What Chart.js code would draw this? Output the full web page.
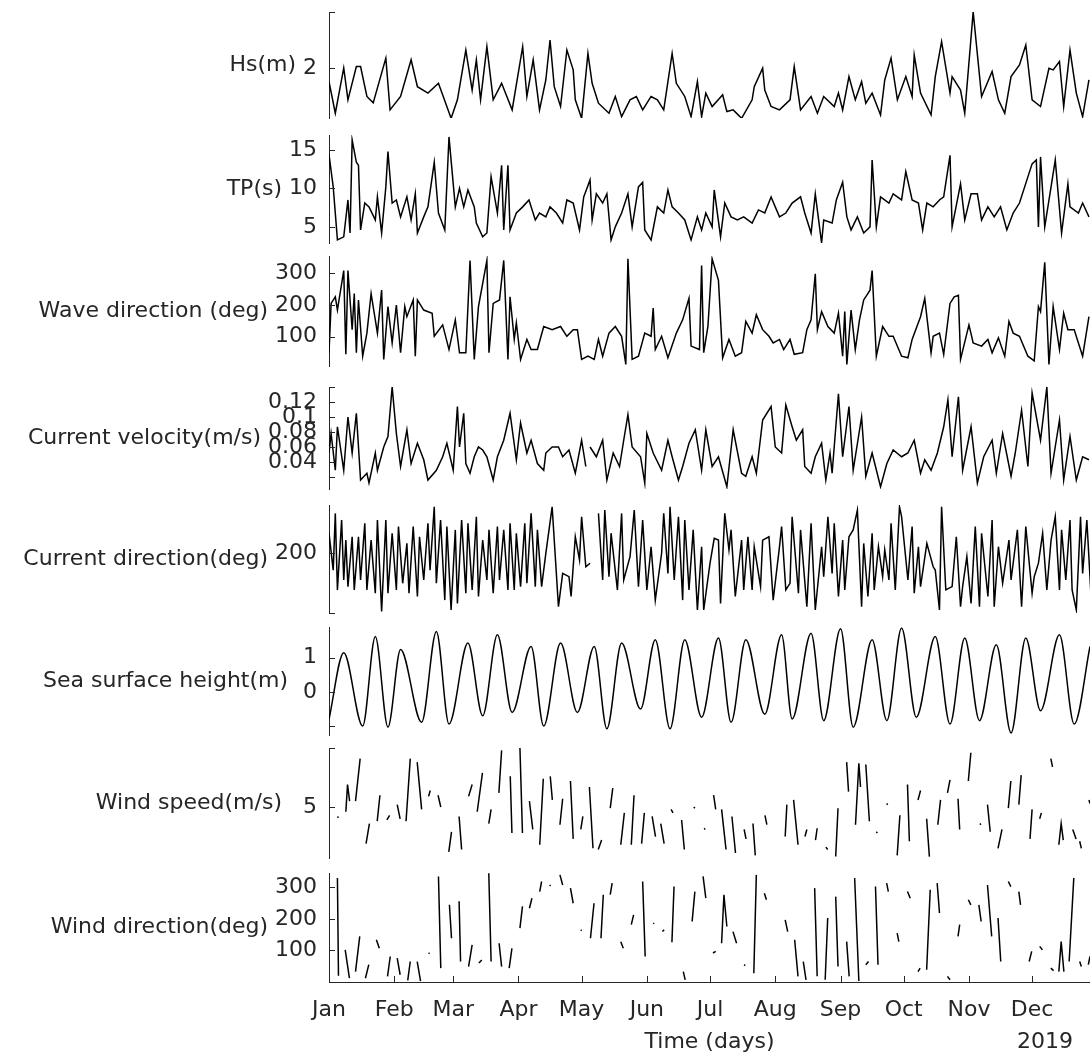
<!DOCTYPE html>
<html>
<head>
<meta charset="utf-8">
<script src="https://cdn.jsdelivr.net/npm/chart.js@4.4.0/dist/chart.umd.min.js"></script>
<style>
  body { margin: 0; background: #fff; width: 1090px; height: 1059px; overflow: hidden; position: relative; }
  canvas { position: absolute; left: 0; }
</style>
</head>
<body>
<script>
// x axis = day of 2019 (0 = 1 Jan)
var monthStarts = [0, 31, 59, 90, 120, 151, 181, 212, 243, 273, 304, 334];
var monthLabels = ['Jan', 'Feb', 'Mar', 'Apr', 'May', 'Jun', 'Jul', 'Aug', 'Sep', 'Oct', 'Nov', 'Dec'];

// [day, value], null = gap
var hs = [[0,1.51],[3,0.38],[7,2.0],[9,0.86],[13,2.05],[15,2.05],[18,0.98],[21,0.75],[27,2.35],[29,0.5],[34,0.98],[39,2.29],[42,1.33],[47,1.1],[52,1.45],[58,0.2],[61,0.86],[65,2.64],[68,1.21],[70,2.29],[72,0.86],[75,2.76],[78,0.86],[82,1.45],[87,0.5],[92,2.76],[94,0.98],[97,2.29],[100,0.5],[103,1.57],[105,3.0],[107,1.33],[110,0.62],[113,2.64],[116,1.93],[117,0.86],[120,0.2],[123,2.52],[125,1.45],[128,0.74],[133,0.38],[136,0.98],[139,0.26],[143,0.86],[146,0.98],[149,0.5],[153,0.98],[156,0.86],[159,0.5],[163,2.52],[165,1.45],[169,0.98],[172,0.26],[175,1.51],[177,0.26],[179,1.1],[182,0.62],[187,1.04],[189,0.44],[192,0.5],[196,0.2],[201,0.86],[202,1.33],[206,1.99],[207,1.21],[210,0.62],[214,0.5],[219,0.86],[221,2.05],[224,0.5],[229,0.98],[232,0.38],[235,0.98],[240,0.62],[242,1.1],[244,0.5],[247,1.69],[250,0.86],[253,1.51],[255,0.74],[258,1.1],[262,0.32],[264,1.57],[267,2.35],[270,0.86],[274,1.69],[277,0.98],[278,2.46],[281,1.1],[286,0.32],[288,1.69],[291,2.94],[295,1.1],[296,1.69],[300,1.21],[302,0.38],[306,4.0],[310,0.98],[315,1.87],[318,0.86],[321,0.38],[324,1.69],[328,2.11],[331,2.82],[334,0.86],[338,0.62],[342,1.99],[344,1.93],[347,2.23],[349,0.62],[352,2.64],[355,1.1],[358,0.26],[361,1.57]];

var tp = [[0,14.4],[2,10.2],[4,3.3],[7,3.7],[9,8.5],[10,4.2],[11,16.3],[13,13.4],[14,13.0],[15,4.6],[17,8.1],[19,7.6],[22,5.9],[23,8.9],[25,4.2],[27,10.2],[28,14.8],[30,8.1],[32,8.5],[34,6.3],[37,8.9],[39,5.9],[41,9.3],[42,4.2],[45,6.3],[47,7.6],[50,13.4],[52,6.8],[55,4.6],[57,16.7],[60,7.6],[62,10.0],[64,7.6],[66,9.8],[69,7.6],[70,5.5],[73,3.7],[75,4.2],[77,11.5],[80,6.8],[82,13.0],[83,4.6],[85,13.0],[86,4.6],[89,6.8],[92,7.6],[95,8.5],[98,5.9],[100,6.8],[103,6.3],[105,7.6],[108,6.8],[111,5.5],[113,8.5],[116,8.1],[119,4.6],[121,8.9],[124,11.1],[125,5.9],[127,9.3],[130,8.1],[132,9.3],[134,3.3],[136,5.0],[139,6.8],[142,9.3],[144,5.0],[147,10.2],[149,10.8],[150,4.6],[153,3.3],[156,7.6],[159,6.8],[161,9.8],[163,7.6],[166,6.8],[169,5.9],[172,3.3],[175,6.3],[177,4.6],[179,6.8],[182,5.0],[183,9.8],[186,3.7],[188,8.1],[191,6.3],[194,5.9],[197,6.3],[201,5.5],[204,7.2],[207,6.8],[210,8.9],[214,6.3],[217,6.8],[220,8.1],[224,8.9],[226,6.8],[229,4.2],[231,9.3],[234,2.9],[235,5.9],[239,5.5],[241,8.5],[244,10.8],[246,6.3],[248,4.6],[251,6.3],[254,4.2],[257,5.0],[258,13.7],[260,5.0],[262,8.9],[266,8.1],[268,9.3],[272,8.5],[274,12.2],[277,8.5],[280,8.1],[282,4.6],[284,8.1],[287,7.6],[290,8.5],[292,8.9],[295,14.3],[296,5.0],[300,10.6],[302,5.9],[305,9.3],[308,9.3],[310,5.9],[313,7.6],[316,6.3],[319,7.6],[322,4.6],[325,6.8],[328,8.1],[332,11.5],[334,13.2],[336,13.7],[337,5.0],[338,14.1],[340,5.0],[343,10.2],[345,13.7],[348,4.2],[351,10.6],[352,7.6],[356,6.8],[358,8.1],[361,6.3]];

var waveDir = [[0,49],[1,205],[3,226],[4,184],[7,309],[8,44],[9,309],[11,122],[12,236],[13,49],[14,216],[16,38],[18,111],[20,236],[23,111],[25,247],[26,28],[28,195],[30,80],[32,200],[34,49],[36,195],[37,163],[40,216],[41,38],[42,216],[45,184],[49,174],[50,101],[54,137],[57,59],[60,153],[62,49],[65,49],[67,341],[69,28],[71,195],[75,341],[76,49],[78,205],[81,216],[83,341],[85,28],[86,226],[88,91],[89,143],[91,28],[94,91],[96,59],[99,59],[102,132],[106,122],[110,132],[113,101],[116,122],[118,122],[120,28],[123,38],[126,28],[128,91],[130,38],[133,111],[136,132],[139,101],[141,12],[142,346],[144,28],[147,38],[150,111],[153,101],[154,190],[155,59],[158,101],[161,33],[165,111],[168,153],[171,221],[172,70],[176,59],[177,325],[178,49],[180,132],[182,346],[185,278],[187,33],[190,91],[193,38],[196,49],[198,148],[201,111],[203,169],[206,122],[209,101],[211,80],[214,91],[216,59],[219,91],[221,44],[225,49],[227,122],[229,153],[231,299],[232,122],[234,179],[237,132],[240,111],[242,174],[244,38],[245,179],[246,12],[248,184],[250,59],[252,153],[254,216],[257,247],[258,309],[260,38],[263,132],[266,101],[268,101],[272,38],[275,33],[277,91],[281,163],[283,221],[286,49],[287,101],[290,111],[292,44],[295,205],[297,226],[299,231],[300,28],[304,137],[306,80],[310,70],[313,91],[315,49],[318,96],[321,38],[323,148],[325,111],[328,101],[332,38],[335,23],[337,195],[338,179],[340,335],[342,12],[344,195],[347,59],[349,174],[351,122],[354,122],[358,38],[361,163]];

var curVel = [[0,0.052],[1,0.078],[3,0.029],[4,0.087],[7,0.029],[9,0.100],[11,0.052],[13,0.105],[15,0.016],[18,0.025],[19,0.012],[22,0.052],[23,0.029],[26,0.060],[28,0.074],[30,0.140],[32,0.078],[34,0.034],[37,0.083],[39,0.038],[42,0.065],[45,0.043],[47,0.016],[51,0.029],[54,0.047],[56,0.065],[59,0.029],[61,0.114],[62,0.060],[64,0.105],[65,0.038],[67,0.025],[69,0.047],[71,0.060],[73,0.056],[75,0.047],[78,0.016],[80,0.047],[83,0.069],[86,0.105],[89,0.043],[91,0.092],[94,0.052],[96,0.069],[99,0.038],[102,0.029],[103,0.052],[106,0.060],[109,0.060],[111,0.047],[114,0.056],[117,0.025],[120,0.069],[122,0.034],null,[124,0.060],[127,0.047],[130,0.069],[132,0.016],[135,0.052],[138,0.034],[140,0.069],[142,0.103],[144,0.060],[148,0.047],[150,0.012],[151,0.078],[154,0.052],[158,0.029],[161,0.069],[163,0.047],[166,0.016],[168,0.034],[171,0.065],[174,0.083],[177,0.029],[179,0.083],[182,0.034],[185,0.047],[189,0.007],[192,0.083],[196,0.025],[198,0.021],[201,0.047],[203,0.025],[206,0.096],[210,0.114],[212,0.060],[215,0.052],[217,0.116],[220,0.087],[222,0.069],[225,0.083],[226,0.034],[229,0.025],[231,0.047],[234,0.065],[236,0.016],[238,0.052],[239,0.025],[242,0.131],[244,0.047],[247,0.114],[249,0.029],[253,0.100],[255,0.021],[258,0.052],[262,0.007],[265,0.038],[268,0.056],[272,0.047],[275,0.052],[278,0.069],[281,0.025],[283,0.043],[286,0.029],[289,0.052],[292,0.087],[294,0.123],[296,0.047],[299,0.127],[301,0.029],[305,0.087],[308,0.012],[311,0.047],[315,0.069],[317,0.025],[320,0.078],[324,0.021],[326,0.052],[329,0.109],[332,0.034],[334,0.132],[338,0.069],[341,0.140],[343,0.025],[347,0.096],[349,0.016],[352,0.074],[355,0.016],[358,0.047],[361,0.043]];

var curDir = [[0,266],[2,143],[3,332],[4,77],[6,310],[7,110],[8,243],[9,88],[11,254],[12,77],[14,254],[15,110],[17,299],[18,77],[20,243],[22,66],[23,310],[25,5],[27,310],[28,66],[30,266],[32,77],[33,288],[35,99],[37,232],[38,66],[40,288],[42,55],[43,254],[45,110],[47,299],[48,143],[50,354],[51,99],[53,310],[55,43],[56,288],[58,10],[60,277],[61,32],[63,310],[65,66],[66,299],[68,77],[70,321],[71,55],[73,243],[75,110],[76,277],[78,66],[80,288],[81,110],[83,277],[85,77],[86,299],[88,77],[89,266],[91,88],[93,299],[94,99],[96,332],[98,88],[99,277],[101,88],[103,199],[106,354],[109,21],[111,132],[114,121],[115,55],[117,254],[119,177],[120,321],[122,154],[124,166],null,[128,332],[130,110],[131,343],[133,121],[134,266],[137,77],[139,332],[140,110],[143,188],[145,343],[147,88],[149,310],[151,77],[153,221],[155,43],[158,199],[159,332],[161,132],[162,354],[164,110],[166,321],[168,43],[169,310],[171,77],[173,277],[175,10],[177,221],[178,10],[181,166],[183,249],[185,243],[186,32],[188,332],[190,210],[191,277],[193,55],[196,243],[197,77],[199,254],[201,77],[202,221],[205,88],[206,243],[209,254],[211,43],[214,221],[215,288],[217,77],[219,99],[220,321],[223,66],[224,277],[227,21],[229,299],[231,10],[234,221],[235,121],[237,321],[239,132],[240,299],[242,55],[244,243],[245,77],[247,254],[249,277],[251,343],[253,21],[254,232],[256,55],[258,266],[259,77],[261,221],[263,121],[264,210],[266,110],[267,299],[269,77],[271,354],[272,321],[275,110],[277,288],[278,66],[280,221],[281,88],[284,232],[287,154],[288,143],[290,10],[291,354],[293,77],[296,88],[298,254],[300,21],[301,88],[303,188],[305,32],[307,288],[309,21],[310,266],[313,55],[315,310],[316,21],[318,221],[320,99],[323,243],[324,110],[327,277],[329,21],[331,288],[334,66],[335,121],[337,166],[339,266],[341,77],[343,243],[345,321],[347,77],[348,277],[350,110],[352,310],[353,77],[355,10],[357,321],[358,132],[360,310],[362,55]];

var ssh = [[0,-0.8],[7,1.15],[16,-1.0],[22,1.62],[28,-1.03],[34,1.24],[44,-0.89],[51,1.77],[57,-0.94],[66,1.43],[73,-0.7],[80,1.67],[87,-0.6],[96,1.33],[102,-1.0],[110,1.43],[118,-0.6],[126,1.33],[132,-1.08],[139,1.43],[148,-0.5],[155,1.53],[162,-1.08],[169,1.53],[177,-0.74],[185,1.58],[191,-0.89],[198,1.53],[207,-0.65],[215,1.67],[220,-0.79],[229,1.72],[235,-0.84],[243,1.85],[249,-1.03],[258,1.53],[265,-0.84],[272,1.87],[279,-0.74],[288,1.62],[295,-0.94],[302,1.58],[309,-0.84],[317,1.38],[324,-1.2],[331,1.58],[338,-0.55],[347,1.67],[354,-0.94],[361.5,1.33]];

var windSpd = [[4,4.1],[4.5,4.2],null,[8,4.6],[8.8,6.9],[9.8,5.5],null,[12.6,5.5],[14.8,9.1],null,[17.6,1.9],[19.2,3.6],null,[22.9,3.8],[24.2,6.0],null,[27.5,3.9],[28.8,4.3],null,[32.4,5.2],[33.8,4.0],null,[36.6,3.8],[38.6,9.1],null,[41.9,8.8],[44,4.8],null,[47.3,5.9],[48.1,6.4],null,[51.8,6.0],[53.1,5.0],null,[56.9,1.2],[58.2,2.9],null,[61.8,4.2],[63,1.4],null,[66.3,5.9],[68,6.9],null,[70.4,4.6],[72.9,7.9],null,[75.9,3.6],[77,4.8],null,[80.7,6.2],[82,9.8],null,[86.1,7.6],[86.9,2.8],null,[90.7,10.0],[91.9,2.8],null,[95.2,5.5],[96.8,3.1],null,[100.1,1.8],[101.8,7.4],null,[105.1,7.6],[106.1,5.6],null,[109.7,3.5],[111,5.7],null,[114.7,7.2],[116,2.3],null,[119.6,3.1],[120.6,4.2],null,[123.7,6.7],[125.4,1.5],null,[127.9,1.4],[129.5,2.2],null,[133.6,4.9],[134.8,6.6],null,[138.6,1.8],[140.3,4.5],null,[143.6,1.8],[144.9,6.0],null,[148.5,1.9],[149.8,4.5],null,[153.5,4.2],[155.1,2.5],null,[157.6,3.6],[159.2,1.9],null,[162.5,4.8],[163.4,4.5],null,[167.5,3.9],[168.8,1.4],null,[173.3,5.0],[173.8,4.9],null,[178.2,3.2],[178.7,3.1],null,[182.7,6.0],[183.7,4.8],null,[186.5,4.8],[188.6,1.4],null,[191.4,4.2],[193.1,1.1],null,[197.2,3.1],[198.1,2.3],null,[201.4,3.6],[202.5,0.9],null,[207.1,4.3],[208,3.5],null,[216.7,2.5],[217.5,5.2],null,[220.7,5.6],[222.8,1.8],null,[226.1,2.5],[227,3.1],null,[231.1,2.2],[231.9,3.2],null,[236,1.6],[236.9,1.4],null,[240.7,0.8],[241.8,4.9],null,[245.9,8.8],[246.8,6.3],null,[250.1,3.5],[251.7,8.7],[252.5,6.7],null,[255,8.6],[256.7,3.8],null,[260,2.9],[260.5,2.8],null,[264.9,5.3],[265.4,5.2],null,[269.9,0.9],[271.2,4.3],null,[274.8,6.9],[275.7,2.1],null,[279.8,5.6],[281,6.4],null,[283.9,4.0],[285.2,0.8],null,[289.2,3.5],[290.5,5.6],null,[293.8,6.2],[295,7.3],null,[298.8,5.7],[299.6,3.1],null,[303.7,7.2],[304.9,9.6],null,[309.2,3.6],[309.7,3.5],null,[312.8,5.2],[314.1,2.9],null,[317.8,1.5],[319.7,3.1],null,[322.7,4.9],[323.9,7.2],null,[327.7,5.2],[328.8,7.7],null,[333,2.3],[334,4.8],null,[337.6,4.0],[338.4,4.5],null,[342.9,9.1],[343.7,8.4],null,[346.7,1.8],[347.8,3.6],[348.8,2.2],null,[353.3,3.1],[354.9,2.3],null,[356.6,2.1],[357.4,1.5],null,[361,5.6],[361.5,5.3]];

var windDir = [[4,330],[4.5,20],null,[7.7,102],[9.7,12],null,[12.6,33],[14.6,145],null,[17.3,12],[18.9,55],null,[22.5,134],[23.9,107],null,[27.8,18],[29.1,81],null,[32.4,76],[33.8,23],null,[37.4,5],[38.6,65],null,[41.9,65],[43.5,3],null,[47.3,92],[47.8,90],null,[52,335],[53.1,44],null,[57.2,245],[58.2,139],null,[61.8,256],[62.5,65],null,[66.3,49],[68,118],null,[71.2,60],[72.6,70],null,[75.9,345],[77,65],null,[80.8,123],[82,49],null,[85.6,44],[86.9,107],null,[90.7,171],[91.9,240],null,[95.2,234],[96.4,266],null,[100.1,287],[101,319],null,[104.8,308],[105.3,305],null,[109.7,340],[111,308],null,[114.7,298],[116,250],null,[119.6,166],[120,163],null,[124.2,139],[125.9,250],null,[129.2,139],[130.3,277],null,[133.6,277],[134.5,314],null,[138.6,128],[139.8,107],null,[143.6,182],[144.7,213],null,[149,319],[150.2,81],null,[154,187],[154.5,185],null,[158.4,160],[159.2,166],null,[162.9,126],[163.9,303],null,[168.3,33],[169.2,7],null,[172.5,192],[173.8,287],null,[177.7,335],[179,266],null,[182.4,92],[183.7,97],null,[186.5,123],[187.6,277],[189,176],null,[191.9,160],[193.6,123],null,[197.2,55],[197.7,52],null,[201.8,28],[203,340],null,[206.8,282],[207.8,261],null,[216.7,197],[217.9,160],null,[221.2,134],[222.8,18],null,[225.3,65],[226.6,7],null,[230.7,298],[231.9,18],null,[235.7,7],[236.9,203],null,[240.7,271],[241.8,49],null,[245.9,128],[247.1,18],null,[249.7,330],[251.7,3],null,[255,55],[256.3,65],null,[259.6,303],[260.8,55],null,[264.9,314],[265.7,287],null,[269.9,155],[270.7,128],null,[274.8,287],[276.1,266],null,[279.8,33],[280.8,44],null,[283.9,39],[285.6,293],null,[288.9,314],[290,219],null,[293.8,18],[295,7],null,[298.8,145],[299.6,182],null,[303.7,261],[304.9,245],null,[308.7,245],[309.8,192],null,[312.8,308],[314.8,145],null,[317.8,203],[319.1,65],null,[322.7,319],[323.9,303],null,[327.7,287],[328.5,245],null,[332.6,65],[333.8,97],null,[337.6,113],[338.9,102],null,[342.9,44],[344.2,36],null,[346.7,33],[347.8,128],[349.1,33],null,[351.6,65],[353.8,330],null,[356.6,65],[357.4,49],null,[360.7,55],[361.5,81]];

Chart.defaults.font.family = '"DejaVu Sans", sans-serif';
Chart.defaults.font.size = 22;
Chart.defaults.color = '#262626';

var AXIS = '#262626';
var LEFT = 329;      // left edge of the plot area
var X_MAX = 361.5;   // right edge of the picture

// panel list: chart area top/bottom in page pixels, y range, tick values and which get a label
var panels = [
  { name: 'Hs(m)', data: hs, top: 12, bottom: 118, min: 0.21, max: 4.0, ticks: [2, 4], shown: [2] },
  { name: 'TP(s)', data: tp, top: 135, bottom: 243, min: 2.9, max: 16.95, ticks: [5, 10, 15], shown: [5, 10, 15] },
  { name: 'Wave direction (deg)', data: waveDir, top: 256, bottom: 366, min: 7, max: 355, ticks: [100, 200, 300], shown: [100, 200, 300] },
  { name: 'Current velocity(m/s)', data: curVel, top: 387, bottom: 489, min: 0.004, max: 0.14, ticks: [0.02, 0.04, 0.06, 0.08, 0.1, 0.12, 0.14], shown: [0.04, 0.06, 0.08, 0.1, 0.12] },
  { name: 'Current direction(deg)', data: curDir, top: 505, bottom: 613, min: 0, max: 360, ticks: [0, 200], shown: [200] },
  { name: 'Sea surface height(m)', data: ssh, top: 627, bottom: 735, min: -1.26, max: 1.9, ticks: [-1, 0, 1], shown: [0, 1], smooth: true },
  { name: 'Wind speed(m/s)', data: windSpd, top: 748, bottom: 858, min: 0.68, max: 10, ticks: [5, 10], shown: [5] },
  { name: 'Wind direction(deg)', data: windDir, top: 873, bottom: 982, min: 0, max: 346, ticks: [100, 200, 300], shown: [100, 200, 300] }
];

// inward tick marks + horizontal panel names, MATLAB stackedplot style
var stackLook = {
  id: 'stackLook',
  afterDraw: function (chart, args, opts) {
    var ctx = chart.ctx, a = chart.chartArea, y = chart.scales.y, x = chart.scales.x;
    ctx.save();
    ctx.strokeStyle = AXIS;
    ctx.lineWidth = 1;
    ctx.beginPath();
    y.ticks.forEach(function (t) {
      var py = Math.round(y.getPixelForValue(t.value)) + 0.5;
      ctx.moveTo(a.left, py);
      ctx.lineTo(a.left + 6, py);
    });
    if (x.options.display) {
      x.ticks.forEach(function (t) {
        var px = Math.round(x.getPixelForValue(t.value)) + 0.5;
        ctx.moveTo(px, a.bottom);
        ctx.lineTo(px, a.bottom - 6);
      });
    }
    ctx.stroke();

    ctx.font = '22px "DejaVu Sans", sans-serif';
    ctx.fillStyle = AXIS;
    ctx.textBaseline = 'middle';
    var w = 0;
    y.ticks.forEach(function (t) {
      w = Math.max(w, ctx.measureText(String(t.value)).width);
    });
    ctx.textAlign = 'right';
    ctx.fillText(opts.name, a.left - 12 - w - 7, (a.top + a.bottom) / 2);
    if (opts.note) {
      ctx.textAlign = 'center';
      ctx.fillText(opts.note, 1045, a.bottom + 60);
    }
    ctx.restore();
  }
};

function toPoints(list) {
  return list.map(function (p) { return p ? { x: p[0], y: p[1] } : { x: null, y: null }; });
}

panels.forEach(function (p, i) {
  var last = i === panels.length - 1;
  var top = p.top - 8;
  var h = last ? 1059 - top : p.bottom - p.top + 16;
  var cv = document.createElement('canvas');
  cv.width = 1090;
  cv.height = h;
  cv.style.top = top + 'px';
  cv.style.width = '1090px';
  cv.style.height = h + 'px';
  document.body.appendChild(cv);

  new Chart(cv, {
    type: 'line',
    data: {
      datasets: [{
        data: toPoints(p.data),
        borderColor: '#000',
        borderWidth: 1.5,
        pointRadius: 0,
        tension: 0,
        spanGaps: false,
        cubicInterpolationMode: p.smooth ? 'monotone' : 'default'
      }]
    },
    options: {
      responsive: false,
      animation: false,
      events: [],
      layout: { padding: { top: 8, bottom: last ? 0 : 8, left: 0, right: 0 } },
      plugins: {
        legend: { display: false },
        tooltip: { enabled: false },
        stackLook: { name: p.name, note: last ? '2019' : '' }
      },
      scales: {
        x: {
          type: 'linear',
          min: 0,
          max: X_MAX,
          display: last,
          afterBuildTicks: function (s) { s.ticks = monthStarts.map(function (v) { return { value: v }; }); },
          afterFit: function (s) {
            if (last) s.height = 1059 - 982;
            s.paddingLeft = 0;
            s.paddingRight = 0;
          },
          ticks: {
            autoSkip: false,
            maxRotation: 0,
            padding: 15,
            callback: function (v) { return monthLabels[monthStarts.indexOf(v)]; }
          },
          grid: { display: false, drawTicks: false },
          border: { display: true, color: AXIS, width: 1 },
          title: { display: true, text: 'Time (days)', padding: { top: 0, bottom: 4 } }
        },
        y: {
          type: 'linear',
          min: p.min,
          max: p.max,
          afterBuildTicks: function (s) { s.ticks = p.ticks.map(function (v) { return { value: v }; }); },
          afterFit: function (s) {
            s.width = LEFT;
            s.paddingTop = 0;
            s.paddingBottom = 0;
          },
          ticks: {
            autoSkip: false,
            padding: 12,
            callback: function (v) { return p.shown.indexOf(v) >= 0 ? String(v) : ''; }
          },
          grid: { display: false, drawTicks: false },
          border: { display: true, color: AXIS, width: 1 }
        }
      }
    },
    plugins: [stackLook]
  });
});
</script>
</body>
</html>
